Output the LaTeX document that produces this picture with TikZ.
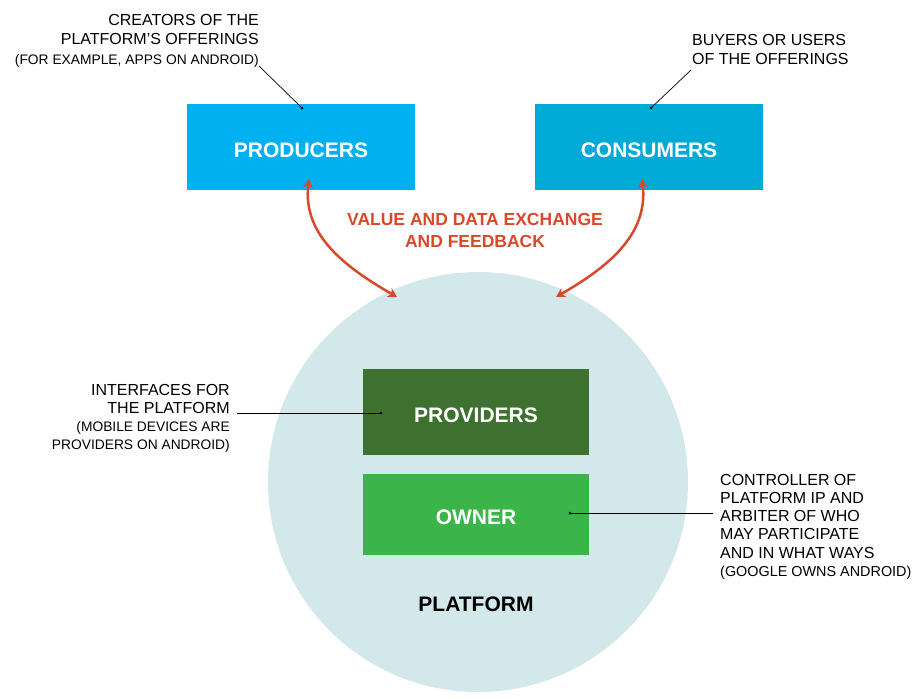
\documentclass[tikz,border=0pt]{standalone}
\usepackage{fontspec}
\setmainfont{Liberation Sans}
\usetikzlibrary{arrows.meta}

\definecolor{prodblue}{HTML}{00B0F0}
\definecolor{consblue}{HTML}{00AAD6}
\definecolor{provgreen}{HTML}{3E702F}
\definecolor{ownergreen}{HTML}{3BB54A}
\definecolor{platformbg}{HTML}{D3E8EA}
\definecolor{flowred}{HTML}{D9482B}

\tikzset{
  box/.style={rectangle, inner sep=0pt, text=white, text height=21pt, text depth=0pt,
    font=\fontsize{21}{24}\selectfont\bfseries},
  note/.style={inner sep=0pt, font=\fontsize{16}{19.5}\selectfont},
  leader/.style={draw=black, line width=0.7pt},
  tip/.style={circle, fill=black, inner sep=0pt, minimum size=3pt},
  flow/.style={draw=flowred, line width=2.5pt, {Stealth[length=9pt,width=10pt]}-{Stealth[length=9pt,width=10pt]}}
}
\newcommand{\smallnote}{\fontsize{13.8}{15}\selectfont}

\begin{document}
\begin{tikzpicture}[x=1pt, y=-1pt]
  \useasboundingbox (0,0) rectangle (920,697);

  % platform circle
  \fill[platformbg] (478,482) circle (210);

  \node[box, fill=prodblue, minimum width=228pt, minimum height=86pt] (producers) at (301,147) {PRODUCERS};
  \node[box, fill=consblue, minimum width=228pt, minimum height=86pt] (consumers) at (649,147) {CONSUMERS};
  \node[box, fill=provgreen, minimum width=226pt, minimum height=86pt] (providers) at (476,412) {PROVIDERS};
  \node[box, fill=ownergreen, minimum width=226pt, minimum height=81pt] (owner) at (476,514) {OWNER};
  \node[font=\fontsize{21}{24}\selectfont\bfseries] (platform) at (476,604) {PLATFORM};

  \node[text=flowred, align=center, font=\fontsize{17.5}{22}\selectfont\bfseries] (exchange) at (475,230)
    {VALUE AND DATA EXCHANGE\\AND FEEDBACK};

  % annotations
  \node[note, align=right, anchor=north east] (creators) at (259,14)
    {CREATORS OF THE\\PLATFORM'S OFFERINGS\\{\smallnote (FOR EXAMPLE, APPS ON ANDROID)}};
  \node[note, align=left, anchor=north west] (buyers) at (692,34)
    {BUYERS OR USERS\\OF THE OFFERINGS};
  \node[note, align=right, anchor=north east, font=\fontsize{16}{18}\selectfont] (interfaces) at (230,384)
    {INTERFACES FOR\\THE PLATFORM\\{\smallnote (MOBILE DEVICES ARE}\\{\smallnote PROVIDERS ON ANDROID)}};
  \node[note, align=left, anchor=north west, font=\fontsize{16}{18.2}\selectfont] (controller) at (720,474)
    {CONTROLLER OF\\PLATFORM IP AND\\ARBITER OF WHO\\MAY PARTICIPATE\\AND IN WHAT WAYS\\{\fontsize{14.4}{15}\selectfont (GOOGLE OWNS ANDROID)}};

  % leader lines
  \coordinate (creatorsend) at (259,66);
  \coordinate (buyersend) at (691,70);
  \coordinate (interfacesend) at (237,413);
  \coordinate (controllerend) at (713,513);
  \node[tip] (prodtip) at (302,108) {};
  \node[tip] (constip) at (651,108) {};
  \node[tip] (provtip) at (381,413) {};
  \node[tip] (ownertip) at (570,513) {};
  \draw[leader] (creatorsend) -- (prodtip.center);
  \draw[leader] (buyersend) -- (constip.center);
  \draw[leader] (interfacesend) -- (provtip.center);
  \draw[leader] (controllerend) -- (ownertip.center);

  % exchange arrows
  \coordinate (prodfoot) at (309,179);
  \coordinate (consfoot) at (642,179);
  \coordinate (platleft) at (397,297);
  \coordinate (platright) at (556,297);
  \draw[flow] (prodfoot) to[out=-97, in=150] (platleft);
  \draw[flow] (consfoot) to[out=-83, in=30] (platright);
\end{tikzpicture}
\end{document}
